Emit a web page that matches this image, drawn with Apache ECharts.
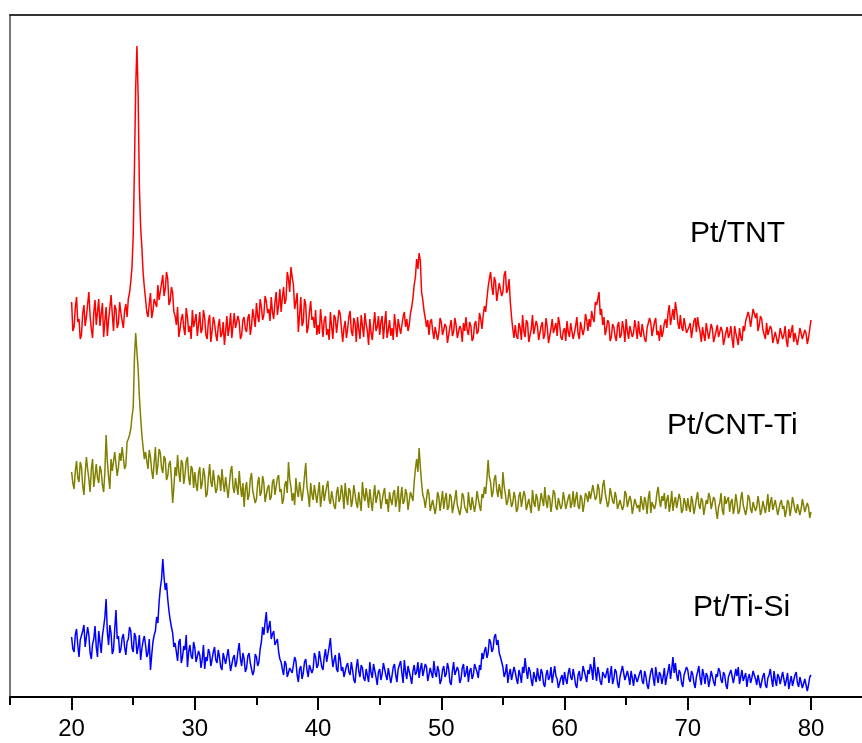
<!DOCTYPE html>
<html>
<head>
<meta charset="utf-8">
<script src="https://cdn.jsdelivr.net/npm/echarts@6/dist/echarts.min.js"></script>
<style>
html,body{margin:0;padding:0;background:#fff;}
#chart{width:862px;height:743px;}
</style>
</head>
<body>
<div id="chart"></div>
<script>
// 2-theta sampling grid (degrees), step 0.1 from 20 to 80
const thetaStart = 20, thetaStep = 0.1, thetaCount = 601;
const majorTicks = [20, 30, 40, 50, 60, 70, 80];
const minorTicks = [15, 25, 35, 45, 55, 65, 75];
const seriesNames = ['Pt/TNT', 'Pt/CNT-Ti', 'Pt/Ti-Si'];

// Intensities (arbitrary units, vertical offsets included)
const ptTNT = [
395,366,370,389,400,375,378,358,362,384,392,371,380,393,405,381,368,359,385,397,
372,385,398,371,383,394,360,376,390,361,377,389,402,383,366,392,388,369,374,395,
384,376,369,386,393,380,398,404,415,430,462,530,610,651,600,510,470,450,425,410,
398,385,380,393,404,379,386,398,400,390,412,397,395,414,422,401,408,425,418,392,
396,410,404,385,381,372,390,360,368,378,383,369,362,389,380,365,371,358,387,370,
376,383,361,372,385,364,368,387,379,362,358,376,382,355,366,380,374,363,356,371,
378,360,363,375,352,366,381,361,370,384,359,372,384,369,367,381,375,358,362,377,
380,368,365,379,383,362,371,388,386,370,394,381,375,398,390,377,382,401,396,384,
388,376,400,385,378,395,405,382,392,408,385,399,410,393,398,425,418,405,430,420,
412,388,395,404,365,382,400,371,375,398,392,364,370,385,396,377,380,369,387,362,
372,363,388,374,360,377,381,362,368,357,385,370,358,382,379,364,366,387,383,368,
355,369,376,359,368,380,386,366,361,379,374,355,380,368,358,382,371,360,384,373,
366,352,378,364,357,372,385,366,370,381,362,375,381,358,373,386,359,367,377,361,
369,357,383,371,360,378,376,363,365,380,385,370,378,366,372,384,390,399,412,420,
438,428,444,436,405,397,386,379,370,377,362,375,378,366,358,370,372,357,364,379,
375,362,360,373,370,354,356,370,377,361,365,379,372,359,358,371,368,355,374,366,
380,367,362,375,371,356,359,373,376,363,366,384,378,368,382,391,385,398,410,418,
425,410,402,420,415,396,398,414,412,401,405,422,426,404,408,418,395,380,368,359,
372,361,358,374,369,357,382,366,360,377,374,355,356,368,382,363,365,376,371,357,
359,371,375,358,363,379,370,354,355,368,378,364,366,374,361,380,373,360,357,366,
369,356,376,365,360,374,372,358,364,371,380,363,358,375,374,362,368,383,377,366,
378,370,386,379,375,395,392,398,405,382,388,372,380,362,368,377,374,356,360,373,
370,361,356,371,375,359,362,376,368,355,378,366,358,371,372,360,364,377,369,358,
376,364,360,373,371,358,355,369,368,379,374,361,363,375,379,362,366,356,372,360,
365,374,378,369,384,392,372,380,388,377,395,386,374,368,382,370,366,379,377,364,
362,370,374,359,368,376,379,365,380,371,365,355,370,362,356,374,372,358,360,373,
368,355,357,366,372,360,361,370,366,352,354,365,370,359,363,371,358,349,371,364,
362,352,369,360,356,371,366,376,374,385,380,370,372,388,390,379,384,366,372,381,
378,367,365,358,374,362,360,371,368,354,356,365,366,353,359,369,370,358,362,371,
357,350,368,359,361,372,355,364,366,352,360,369,370,358,356,367,364,353,359,368,
377];

const ptCNTTi = [
225,214,208,226,236,219,215,235,230,211,202,224,240,228,218,205,228,238,210,221,
233,219,214,231,226,212,205,225,262,236,220,208,238,226,224,245,243,221,230,244,
236,250,248,228,232,255,258,262,268,280,290,340,364,345,328,300,280,262,250,238,
245,236,228,247,240,226,218,235,250,222,232,248,244,229,224,241,238,217,221,233,
236,218,194,210,230,221,242,225,215,237,234,213,222,236,240,219,212,231,228,209,
225,212,206,224,230,208,214,229,221,200,203,219,233,215,210,227,226,204,208,222,
219,206,228,214,205,220,222,199,212,226,231,210,204,219,217,202,226,211,200,214,
190,208,215,197,202,218,224,206,208,194,198,214,220,201,205,221,214,195,196,209,
212,197,200,215,218,202,203,219,222,205,208,193,198,212,216,204,235,218,210,196,
204,192,219,206,200,215,213,196,207,221,234,210,202,190,214,203,197,212,211,194,
205,215,190,201,212,196,198,211,216,197,193,206,207,191,188,204,210,195,199,212,
203,188,214,201,192,209,206,190,197,212,211,194,189,205,204,186,215,202,196,209,
200,189,208,196,186,201,212,194,195,207,203,188,190,204,209,193,198,185,205,197,
192,204,207,190,198,211,185,199,210,193,196,208,203,187,189,205,206,196,215,228,
238,225,249,230,214,202,198,189,190,208,203,186,184,197,198,183,191,205,200,186,
196,206,188,198,204,187,190,203,200,184,185,198,207,192,194,182,189,204,201,190,
192,184,205,193,187,200,198,185,193,206,208,191,186,203,199,210,203,218,237,220,
215,200,205,218,222,207,200,213,212,198,225,211,203,192,196,208,206,190,194,205,
199,185,188,201,205,190,192,206,201,187,186,198,196,184,207,195,190,203,198,186,
193,204,202,191,210,196,189,202,199,185,195,207,204,190,187,199,200,188,192,205,
197,188,186,199,203,189,194,206,190,198,205,191,188,202,199,185,193,204,201,195,
206,198,196,212,210,197,200,213,208,193,198,211,217,204,203,190,195,209,207,196,
193,205,200,188,186,197,198,187,191,206,203,190,189,201,196,183,185,198,199,189,
192,185,201,193,187,200,195,183,199,206,184,195,197,188,193,204,210,197,190,201,
196,204,188,197,202,185,193,206,186,195,200,189,191,203,198,184,187,199,194,186,
199,190,185,201,195,183,190,198,205,192,188,199,196,182,184,197,193,204,200,188,
189,200,197,186,178,190,194,204,187,182,201,193,192,200,185,195,198,183,190,203,
194,183,186,198,205,192,191,182,189,202,199,188,184,195,196,186,190,201,193,182,
187,196,198,184,192,203,185,194,200,187,189,197,195,182,183,194,197,188,191,180,
186,197,194,181,189,200,199,187,184,193,192,182,188,198,196,185,183,194,190,179,
185];

const ptTiSi = [
60,48,45,62,68,52,40,57,55,66,72,50,48,70,62,44,38,53,58,71,
50,40,66,55,44,61,70,80,98,65,52,72,64,43,47,68,87,58,61,44,
48,59,63,50,42,55,58,70,66,49,45,64,60,43,50,62,37,48,56,61,
52,40,44,58,27,42,55,62,66,80,74,95,109,118,138,120,107,114,98,86,
77,70,64,50,54,45,36,55,58,34,40,51,47,62,30,45,52,41,38,55,
49,35,33,46,42,29,38,52,28,40,36,48,44,31,30,45,50,37,34,47,
40,30,27,44,45,33,32,48,37,26,24,39,42,30,35,46,54,38,31,44,
38,25,29,41,44,34,33,22,26,43,40,31,35,48,55,70,62,75,85,64,
70,76,58,63,66,52,50,58,45,38,35,28,22,36,33,20,18,29,30,24,
26,40,36,22,15,28,31,18,24,35,38,27,20,32,34,24,28,44,40,29,
32,46,44,30,27,40,48,35,36,50,59,42,30,37,42,28,25,44,38,26,
30,20,18,31,34,25,22,35,27,17,14,29,38,26,20,32,29,19,16,28,
26,15,35,24,19,33,31,20,12,25,28,17,23,34,36,22,17,29,30,14,
21,30,33,22,15,28,27,36,24,14,37,25,18,31,29,20,13,26,32,22,
25,35,19,28,34,21,22,33,30,16,14,29,27,19,36,24,20,31,26,13,
17,27,31,20,23,34,28,15,12,26,35,22,21,30,26,14,18,29,33,20,
24,31,15,26,29,18,22,33,35,25,19,32,27,44,38,46,50,39,44,58,
55,45,48,60,63,52,57,44,40,35,30,20,24,33,14,23,28,17,19,30,
25,18,13,27,22,14,30,24,39,27,18,30,26,17,11,25,23,15,29,20,
16,28,24,13,10,22,27,17,20,30,14,23,31,21,18,9,8,19,22,12,
25,18,13,24,29,20,17,28,21,12,9,22,26,16,19,31,30,21,15,27,
23,33,28,17,40,26,16,30,24,15,12,25,27,19,20,29,14,22,31,13,
18,28,25,14,9,20,22,31,29,17,15,26,20,12,26,19,11,23,24,15,
17,24,27,16,13,26,21,12,8,18,25,29,19,11,30,21,14,25,22,13,
20,29,12,20,26,33,18,28,40,24,34,22,16,27,24,14,10,22,21,30,
27,18,15,26,23,14,9,20,25,31,19,12,28,22,13,24,21,10,17,26,
24,15,11,23,20,29,26,17,14,25,22,12,8,20,18,27,25,14,16,28,
21,30,13,20,27,16,17,24,10,19,23,14,19,26,28,18,12,22,20,9,
15,21,24,12,9,19,22,28,18,10,26,17,11,23,20,13,14,25,23,11,
17,24,8,15,21,11,13,22,25,14,10,20,19,9,7,18,16,6,12,20,
22];

const twoTheta = Array.from({length: thetaCount}, (_, i) => +(thetaStart + i * thetaStep).toFixed(1));
const toPairs = arr => arr.map((v, i) => [twoTheta[i], v]);

const chart = echarts.init(document.getElementById('chart'), null, {renderer: 'canvas'});
const FONT = '"Liberation Sans", Arial, sans-serif';

const option = {
  animation: false,
  backgroundColor: '#ffffff',
  grid: {left: 10, right: 0, top: 15, bottom: 46, containLabel: false},
  xAxis: [
    {
      type: 'value', min: 15, max: 84.14, position: 'bottom',
      axisLine: {show: true, lineStyle: {color: '#000', width: 2}},
      axisTick: {show: true, customValues: majorTicks, length: 13, inside: false, lineStyle: {color: '#000', width: 2}},
      axisLabel: {show: true, customValues: majorTicks, margin: 20, color: '#000', fontSize: 24, fontFamily: FONT},
      splitLine: {show: false}
    },
    {
      type: 'value', min: 15, max: 84.14, position: 'bottom',
      axisLine: {show: false},
      axisTick: {show: true, customValues: minorTicks, length: 8, lineStyle: {color: '#000', width: 2}},
      axisLabel: {show: false},
      splitLine: {show: false}
    },
    {
      type: 'value', min: 15, max: 84.14, position: 'top',
      axisLine: {show: true, lineStyle: {color: '#333', width: 2}},
      axisTick: {show: false}, axisLabel: {show: false}, splitLine: {show: false}
    }
  ],
  yAxis: {
    type: 'value', min: 0, max: 682,
    axisLine: {show: true, lineStyle: {color: '#7a7a7a', width: 2}},
    axisTick: {show: false}, axisLabel: {show: false}, splitLine: {show: false}
  },
  series: [
    {name: seriesNames[0], type: 'line', data: toPairs(ptTNT), showSymbol: false, xAxisIndex: 0,
     lineStyle: {color: '#ff0000', width: 1.5}, z: 3},
    {name: seriesNames[1], type: 'line', data: toPairs(ptCNTTi), showSymbol: false, xAxisIndex: 0,
     lineStyle: {color: '#808000', width: 1.5}, z: 4},
    {name: seriesNames[2], type: 'line', data: toPairs(ptTiSi), showSymbol: false, xAxisIndex: 0,
     lineStyle: {color: '#0000ff', width: 1.5}, z: 3}
  ],
  graphic: [
    {type: 'text', left: 690, top: 219, style: {text: seriesNames[0], font: '30px ' + FONT, fill: '#000'}},
    {type: 'text', left: 667, top: 411, style: {text: seriesNames[1], font: '30px ' + FONT, fill: '#000'}},
    {type: 'text', left: 693, top: 593, style: {text: seriesNames[2], font: '30px ' + FONT, fill: '#000'}}
  ]
};
chart.setOption(option);
</script>
</body>
</html>
